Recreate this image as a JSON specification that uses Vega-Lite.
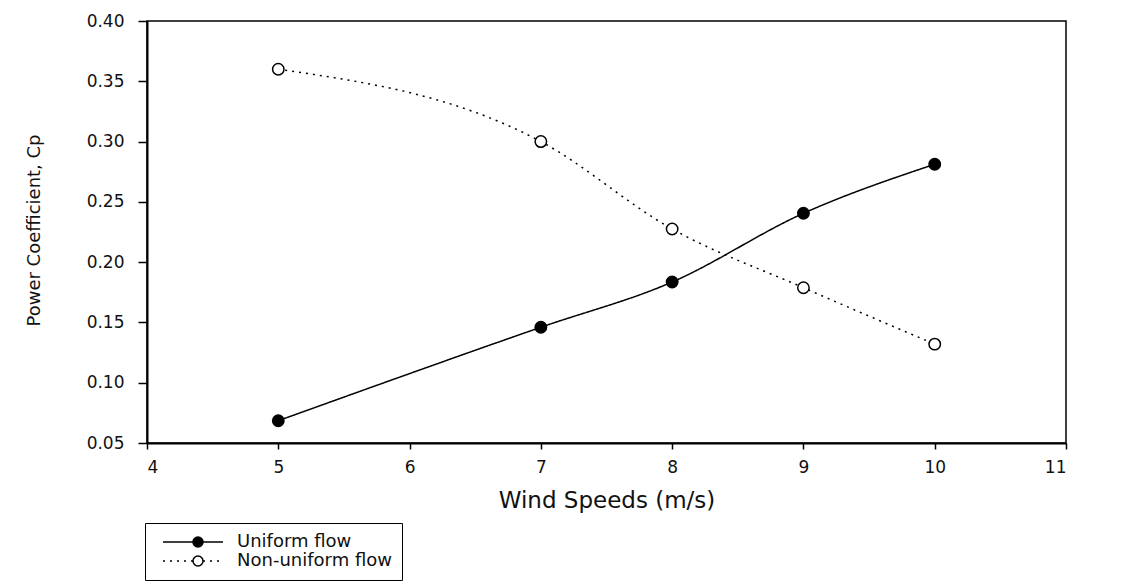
{
  "$schema": "https://vega.github.io/schema/vega-lite/v6.json",
  "autosize": "none",
  "width": 919,
  "height": 422,
  "padding": {"left": 147, "top": 21, "right": 71, "bottom": 143},
  "background": "white",
  "data": {
    "values": [
      {"speed": 5, "cp": 0.0685, "series": "Uniform flow"},
      {"speed": 7, "cp": 0.146, "series": "Uniform flow"},
      {"speed": 8, "cp": 0.1835, "series": "Uniform flow"},
      {"speed": 9, "cp": 0.2405, "series": "Uniform flow"},
      {"speed": 10, "cp": 0.2812, "series": "Uniform flow"},
      {"speed": 5, "cp": 0.36, "series": "Non-uniform flow"},
      {"speed": 7, "cp": 0.30, "series": "Non-uniform flow"},
      {"speed": 8, "cp": 0.2275, "series": "Non-uniform flow"},
      {"speed": 9, "cp": 0.1788, "series": "Non-uniform flow"},
      {"speed": 10, "cp": 0.132, "series": "Non-uniform flow"}
    ]
  },
  "encoding": {
    "x": {
      "field": "speed", "type": "quantitative",
      "scale": {"domain": [4, 11], "nice": false, "zero": false},
      "axis": {
        "title": "Wind Speeds (m/s)",
        "values": [4, 5, 6, 7, 8, 9, 10, 11],
        "format": "d",
        "grid": false,
        "tickSize": 6,
        "labelPadding": 10,
        "titleY": 64,
        "titleBaseline": "alphabetic",
        "titleFontSize": 23
      }
    },
    "y": {
      "field": "cp", "type": "quantitative",
      "scale": {"domain": [0.05, 0.40], "nice": false, "zero": false},
      "axis": {
        "title": "Power Coefficient, Cp",
        "values": [0.05, 0.10, 0.15, 0.20, 0.25, 0.30, 0.35, 0.40],
        "format": ".2f",
        "grid": false,
        "tickSize": 9,
        "labelPadding": 14,
        "titleX": -113,
        "titleY": 209,
        "titleAngle": -90,
        "titleBaseline": "middle",
        "titleAlign": "center",
        "titleFontSize": 18
      }
    }
  },
  "layer": [
    {
      "mark": {"type": "line", "interpolate": "monotone", "strokeWidth": 1.5, "color": "black"},
      "encoding": {
        "strokeDash": {
          "field": "series", "type": "nominal",
          "sort": "descending",
          "scale": {"range": [[1, 0], [2, 5]]},
          "legend": {
            "symbolType": "M-7,0H-1M1,0H5",
            "symbolStrokeColor": "black",
            "labelExpr": "datum.label + '\u00a0\u00a0\u00a0\u00a0\u00a0\u00a0\u00a0\u00a0'"
          }
        }
      }
    },
    {
      "mark": {"type": "point", "shape": "circle", "filled": true, "size": 130, "stroke": "black", "strokeWidth": 1.5, "opacity": 1},
      "encoding": {
        "fill": {
          "field": "series", "type": "nominal",
          "scale": {"domain": ["Uniform flow", "Non-uniform flow"], "range": ["black", "white"]},
          "legend": {
            "symbolType": "circle",
            "symbolStrokeColor": "black",
            "labelOpacity": 0,
            "strokeColor": "transparent",
            "labelExpr": "datum.label + '\u00a0\u00a0\u00a0\u00a0\u00a0\u00a0\u00a0\u00a0'"
          }
        }
      }
    }
  ],
  "config": {
    "view": {"stroke": "black", "strokeWidth": 1.5},
    "axis": {
      "domainColor": "black",
      "domainWidth": 2,
      "tickColor": "black",
      "tickWidth": 1.5,
      "labelFont": "DejaVu Sans",
      "labelFontSize": 17,
      "labelColor": "#111",
      "titleFont": "DejaVu Sans",
      "titleFontWeight": "normal",
      "titleColor": "#111"
    },
    "legend": {
      "orient": "none",
      "legendX": -2,
      "legendY": 502,
      "title": null,
      "symbolSize": 100,
      "symbolStrokeWidth": 1.5,
      "labelFont": "DejaVu Sans",
      "labelFontSize": 18,
      "labelColor": "#111",
      "labelLimit": 400,
      "labelOffset": 30,
      "symbolOffset": 34,
      "padding": 10,
      "rowPadding": 1,
      "strokeColor": "black",
      "fillColor": "transparent"
    }
  }
}
